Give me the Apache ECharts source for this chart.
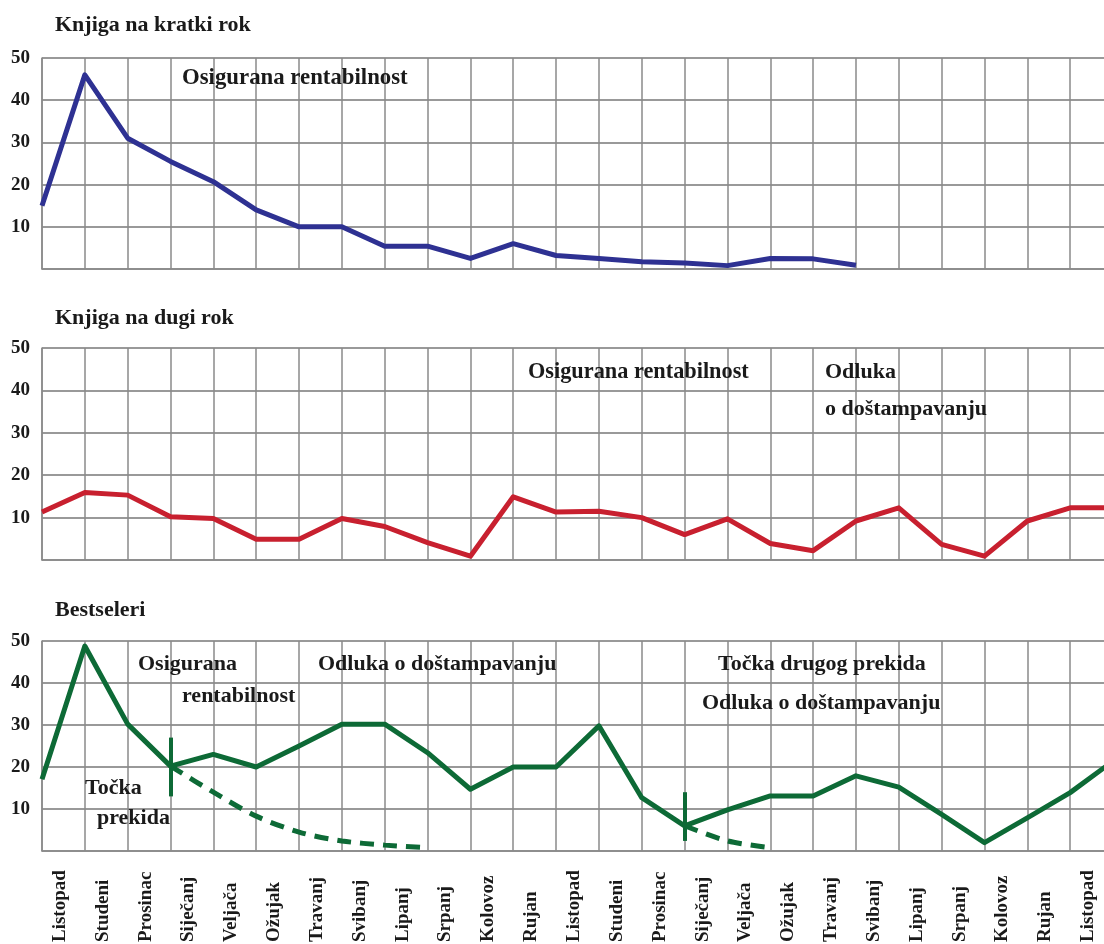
<!DOCTYPE html>
<html>
<head>
<meta charset="utf-8">
<script src="https://cdn.jsdelivr.net/npm/echarts@6/dist/echarts.min.js"></script>
<style>
html,body{margin:0;padding:0;background:#fff;}
#chart{width:1104px;height:944px;}
</style>
</head>
<body>
<div id="chart"></div>
<script>
// ---- data ----
const months = ['Listopad','Studeni','Prosinac','Siječanj','Veljača','Ožujak','Travanj','Svibanj','Lipanj','Srpanj','Kolovoz','Rujan','Listopad','Studeni','Prosinac','Siječanj','Veljača','Ožujak','Travanj','Svibanj','Lipanj','Srpanj','Kolovoz','Rujan','Listopad','Studeni'];
const yTicks = [0, 10, 20, 30, 40, 50];
const shortTerm = [15, 46, 31, 25.5, 20.7, 14, 10, 10, 5.4, 5.4, 2.5, 6, 3.2, 2.5, 1.7, 1.4, 0.8, 2.5, 2.4, 0.9, null, null, null, null, null, null];
const longTerm = [11.3, 15.9, 15.3, 10.2, 9.8, 4.9, 4.9, 9.8, 7.9, 4.1, 0.9, 14.9, 11.3, 11.5, 10, 6, 9.7, 3.9, 2.2, 9.2, 12.3, 3.7, 0.9, 9.2, 12.3, 12.3];
const bestseller = [17.1, 48.8, 30.2, 20.2, 23, 20, 25, 30.2, 30.2, 23.4, 14.7, 20, 20, 29.8, 12.7, 6, 9.8, 13.1, 13.1, 17.9, 15.2, 8.7, 2, 7.9, 13.9, 21.4];
const bestsellerDecline1 = [null, null, null, 20.2, 14, 8.3, 4.5, 2.4, 1.4, 0.8, null, null, null, null, null, null, null, null, null, null, null, null, null, null, null, null];
const bestsellerDecline2 = [null, null, null, null, null, null, null, null, null, null, null, null, null, null, null, 6, 2.4, 0.8, null, null, null, null, null, null, null, null];
// break-point markers: [category index, top value, bottom value]
const breakMarks = [[3, 27, 13], [15, 14, 2.4]];
const panelTitles = ['Knjiga na kratki rok', 'Knjiga na dugi rok', 'Bestseleri'];

// ---- styling ----
const FONT = '"Liberation Serif", "Times New Roman", serif';
const TXT = '#1a1a1a';
const BLUE = '#2e3192', RED = '#c8202f', GREEN = '#0d6a36';
const grids = [
  {left: 42, right: -9, top: 58, height: 211, outerBoundsMode: 'none', containLabel: false},
  {left: 42, right: -9, top: 348, height: 212, outerBoundsMode: 'none', containLabel: false},
  {left: 42, right: -9, top: 641, height: 210, outerBoundsMode: 'none', containLabel: false}
];

function xAxis(i, showLabels) {
  return {
    type: 'category', gridIndex: i, data: months, boundaryGap: false,
    axisLine: {show: true, lineStyle: {color: '#8a8a8a', width: 1.5}},
    axisTick: {show: false},
    splitLine: {show: true, interval: 0, lineStyle: {color: '#8a8a8a', width: 1.5}},
    axisLabel: showLabels ? {
      show: true, interval: 0, rotate: 90, margin: 91, hideOverlap: false,
      align: 'left', verticalAlign: 'top', lineHeight: 36,
      fontFamily: FONT, fontWeight: 'bold', fontSize: 19, color: TXT
    } : {show: false}
  };
}
function yAxis(i) {
  return {
    type: 'value', gridIndex: i, min: yTicks[0], max: yTicks[yTicks.length - 1], interval: 10,
    axisLine: {show: true, lineStyle: {color: '#8a8a8a', width: 1.5}},
    axisTick: {show: false},
    splitLine: {show: true, lineStyle: {color: '#999', width: 2}},
    axisLabel: {
      margin: 12, fontFamily: FONT, fontWeight: 'bold', fontSize: 19, color: TXT,
      formatter: v => (v === 0 ? '' : String(v))
    }
  };
}

function txt(text, x, y, size) {
  return {
    type: 'text', x: x, y: y, silent: true, z: 100,
    style: {text: text, font: 'bold ' + (size || 22) + 'px ' + FONT, fill: TXT,
            textVerticalAlign: 'middle', verticalAlign: 'middle'}
  };
}

const chart = echarts.init(document.getElementById('chart'));
chart.setOption({
  animation: false,
  backgroundColor: '#fff',
  grid: grids,
  xAxis: [xAxis(0, false), xAxis(1, false), xAxis(2, true)],
  yAxis: [yAxis(0), yAxis(1), yAxis(2)],
  graphic: [
    txt(panelTitles[0], 55, 25, 22),
    txt(panelTitles[1], 55, 318, 22),
    txt(panelTitles[2], 55, 610, 22),
    txt('Osigurana rentabilnost', 182, 78, 22.8),
    txt('Osigurana rentabilnost', 528, 372, 22.3),
    txt('Odluka', 825, 372, 22),
    txt('o doštampavanju', 825, 409, 22),
    txt('Osigurana', 138, 664, 22),
    txt('rentabilnost', 182, 696, 22),
    txt('Odluka o doštampavanju', 318, 664, 22),
    txt('Točka drugog prekida', 718, 664, 22),
    txt('Odluka o doštampavanju', 702, 703, 22),
    txt('Točka', 85, 788, 22),
    txt('prekida', 97, 818, 22)
  ],
  series: [
    {type: 'line', xAxisIndex: 0, yAxisIndex: 0, data: shortTerm, symbol: 'none',
     lineStyle: {color: BLUE, width: 5, join: 'round'}, z: 10},
    {type: 'line', xAxisIndex: 1, yAxisIndex: 1, data: longTerm, symbol: 'none',
     lineStyle: {color: RED, width: 5, join: 'round'}, z: 10},
    {type: 'line', xAxisIndex: 2, yAxisIndex: 2, data: bestseller, symbol: 'none',
     lineStyle: {color: GREEN, width: 5, join: 'round'}, z: 10,
     markLine: {
       silent: true, symbol: 'none', label: {show: false},
       lineStyle: {color: GREEN, width: 4, type: 'solid'},
       data: breakMarks.map(m => [{coord: [m[0], m[1]]}, {coord: [m[0], m[2]]}])
     }},
    {type: 'line', xAxisIndex: 2, yAxisIndex: 2, data: bestsellerDecline1, symbol: 'none', smooth: 0.3,
     lineStyle: {color: GREEN, width: 5, type: [14, 9]}, z: 9},
    {type: 'line', xAxisIndex: 2, yAxisIndex: 2, data: bestsellerDecline2, symbol: 'none', smooth: 0.3,
     lineStyle: {color: GREEN, width: 5, type: [14, 9]}, z: 9}
  ]
});
</script>
</body>
</html>
